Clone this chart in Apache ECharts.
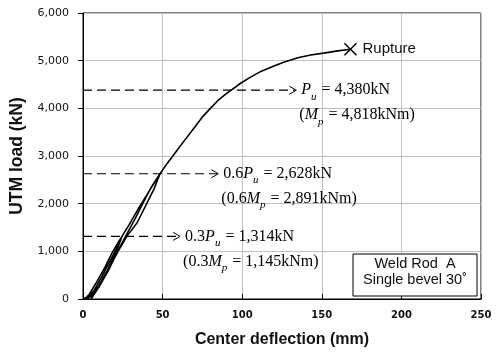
<!DOCTYPE html>
<html><head><meta charset="utf-8">
<script src="https://cdn.jsdelivr.net/npm/echarts@6/dist/echarts.min.js"></script>
<style>html,body{margin:0;padding:0;background:#fff}#c{width:500px;height:361px}</style>
</head><body><div id="c"></div>
<script>
// ---- data ----
const xTicks = [0, 50, 100, 150, 200, 250];
const yTicks = [0, 1000, 2000, 3000, 4000, 5000, 6000];
// deflection (mm) and load (kN) along the loading path (cyclic loops then monotonic)
const curveX = [0, 2, 4, 9, 14, 18, 22, 24.5,
  21, 16, 10, 5, 2.5,
  7, 12, 17, 21, 24.5, 29, 34.5, 40, 44.5, 48.4,
  44.5, 40, 34, 27.5, 22, 16, 10, 5,
  10, 16, 21, 27, 33, 38, 43, 48.4,
  53, 59, 65, 70, 75, 80, 85, 90, 94, 95.5, 99, 105, 112, 120, 126, 135, 143, 151, 160, 168];
const curveY = [0, 30, 100, 380, 680, 950, 1180, 1314,
  1000, 650, 280, 60, 0,
  180, 480, 800, 1050, 1314, 1560, 1880, 2180, 2420, 2628,
  2300, 2000, 1600, 1314, 1000, 620, 250, 0,
  250, 600, 950, 1330, 1700, 2030, 2350, 2628,
  2850, 3116, 3380, 3600, 3820, 4000, 4170, 4310, 4405, 4440, 4526, 4650, 4780, 4890, 4968, 5060, 5120, 5158, 5205, 5240];
const rupture = [168, 5240];
const rupLabel = 'Rupture';
const annotLevels = [4380, 2628, 1314];
const annotArrowEnd = [134, 85, 61];
const annotLine1 = [
  '{i|P}{s|u}{n| = 4,380kN}',
  '{n|0.6}{i|P}{s|u}{n| = 2,628kN}',
  '{n|0.3}{i|P}{s|u}{n| = 1,314kN}'
];
const annotLine2 = [
  '{n|(}{i|M}{s|p}{n| = 4,818kNm)}',
  '{n|(0.6}{i|M}{s|p}{n| = 2,891kNm)}',
  '{n|(0.3}{i|M}{s|p}{n| = 1,145kNm)}'
];
const boxLines = ['Weld Rod  A', 'Single bevel 30˚'];
const xName = 'Center deflection (mm)';
const yName = 'UTM load (kN)';

// ---- chart ----
const chart = echarts.init(document.getElementById('c'), null, {renderer: 'canvas'});
const curve = curveX.map((x, i) => [x, curveY[i]]);
const mathRich = {
  n: {fontFamily: 'Liberation Serif', fontSize: 16, color: '#111'},
  i: {fontFamily: 'Liberation Serif', fontSize: 16, fontStyle: 'italic', color: '#111'},
  s: {fontFamily: 'Liberation Serif', fontSize: 11, fontStyle: 'italic', color: '#111', padding: [13, 1, 0, 0]}
};
const option = {
  animation: false,
  backgroundColor: '#fff',
  grid: {left: 83, right: 19, top: 13, bottom: 62, show: true, borderColor: '#000', borderWidth: 1, containLabel: false},
  xAxis: {
    type: 'value', min: 0, max: 250, interval: 50,
    name: xName, nameLocation: 'middle', nameGap: 33,
    nameTextStyle: {fontFamily: 'Liberation Sans', fontWeight: 'bold', fontSize: 16, color: '#111'},
    axisLine: {show: true, lineStyle: {color: '#000', width: 1}},
    axisTick: {show: true, inside: true, length: 5, lineStyle: {color: '#000'}},
    axisLabel: {fontFamily: 'DejaVu Sans', fontWeight: 'bold', fontSize: 10, color: '#111', margin: 11,
      formatter: v => xTicks.includes(v) ? String(v) : ''},
    splitLine: {show: true, lineStyle: {color: '#c0c0c0', width: 1}}
  },
  yAxis: {
    type: 'value', min: 0, max: 6000, interval: 1000,
    name: yName, nameLocation: 'middle', nameGap: 52,
    nameTextStyle: {fontFamily: 'Liberation Sans', fontWeight: 'bold', fontSize: 17.5, color: '#111'},
    axisLine: {show: true, lineStyle: {color: '#000', width: 1}},
    axisTick: {show: true, inside: false, length: 5, lineStyle: {color: '#000'}},
    axisLabel: {fontFamily: 'DejaVu Sans', fontSize: 11, color: '#111', margin: 14,
      formatter: v => yTicks.includes(v) ? v.toLocaleString('en-US') : ''},
    splitLine: {show: true, lineStyle: {color: '#c0c0c0', width: 1}}
  },
  series: [
    {
      type: 'line', data: curve, showSymbol: false, smooth: false, z: 5,
      lineStyle: {color: '#000', width: 1.6}
    },
    {
      type: 'custom', z: 4,
      data: annotLevels.map((y, i) => [annotArrowEnd[i], y, i]),
      renderItem: (params, api) => {
        const i = api.value(2);
        const end = api.coord([api.value(0), api.value(1)]);
        const start = api.coord([0, api.value(1)]);
        return {
          type: 'group',
          children: [
            {type: 'line', shape: {x1: start[0], y1: end[1], x2: end[0] - 1, y2: end[1]},
              style: {stroke: '#000', lineWidth: 1.2, lineDash: [9, 5]}},
            {type: 'polyline', shape: {points: [[end[0] - 7, end[1] - 4], [end[0], end[1]], [end[0] - 7, end[1] + 4]]},
              style: {stroke: '#000', lineWidth: 1, fill: null}},
            {type: 'text', x: end[0] + 5, y: end[1],
              style: {text: annotLine1[i], rich: mathRich, verticalAlign: 'middle', align: 'left'}},
            {type: 'text', x: end[0] + 3, y: end[1] + 25,
              style: {text: annotLine2[i], rich: mathRich, verticalAlign: 'middle', align: 'left'}}
          ]
        };
      }
    },
    {
      type: 'custom', z: 6,
      data: [rupture],
      renderItem: (params, api) => {
        const p = api.coord([api.value(0), api.value(1)]);
        const r = 6;
        return {
          type: 'group',
          children: [
            {type: 'line', shape: {x1: p[0] - r, y1: p[1] - r, x2: p[0] + r, y2: p[1] + r}, style: {stroke: '#000', lineWidth: 1.5}},
            {type: 'line', shape: {x1: p[0] - r, y1: p[1] + r, x2: p[0] + r, y2: p[1] - r}, style: {stroke: '#000', lineWidth: 1.5}},
            {type: 'text', x: p[0] + 12, y: p[1], style: {text: rupLabel, fontFamily: 'Liberation Sans', fontSize: 15, fill: '#111', verticalAlign: 'middle'}}
          ]
        };
      }
    }
  ],
  graphic: [
    {type: 'rect', x: 353, y: 254, shape: {width: 124, height: 42}, style: {fill: '#fff', stroke: '#000', lineWidth: 1}, z: 10},
    {type: 'text', x: 415, y: 256, z: 11,
      style: {text: boxLines.join('\n'), fontFamily: 'Liberation Sans', fontSize: 14.5, lineHeight: 16, fill: '#111', align: 'center', verticalAlign: 'top'}}
  ]
};
chart.setOption(option);
</script>
</body></html>
